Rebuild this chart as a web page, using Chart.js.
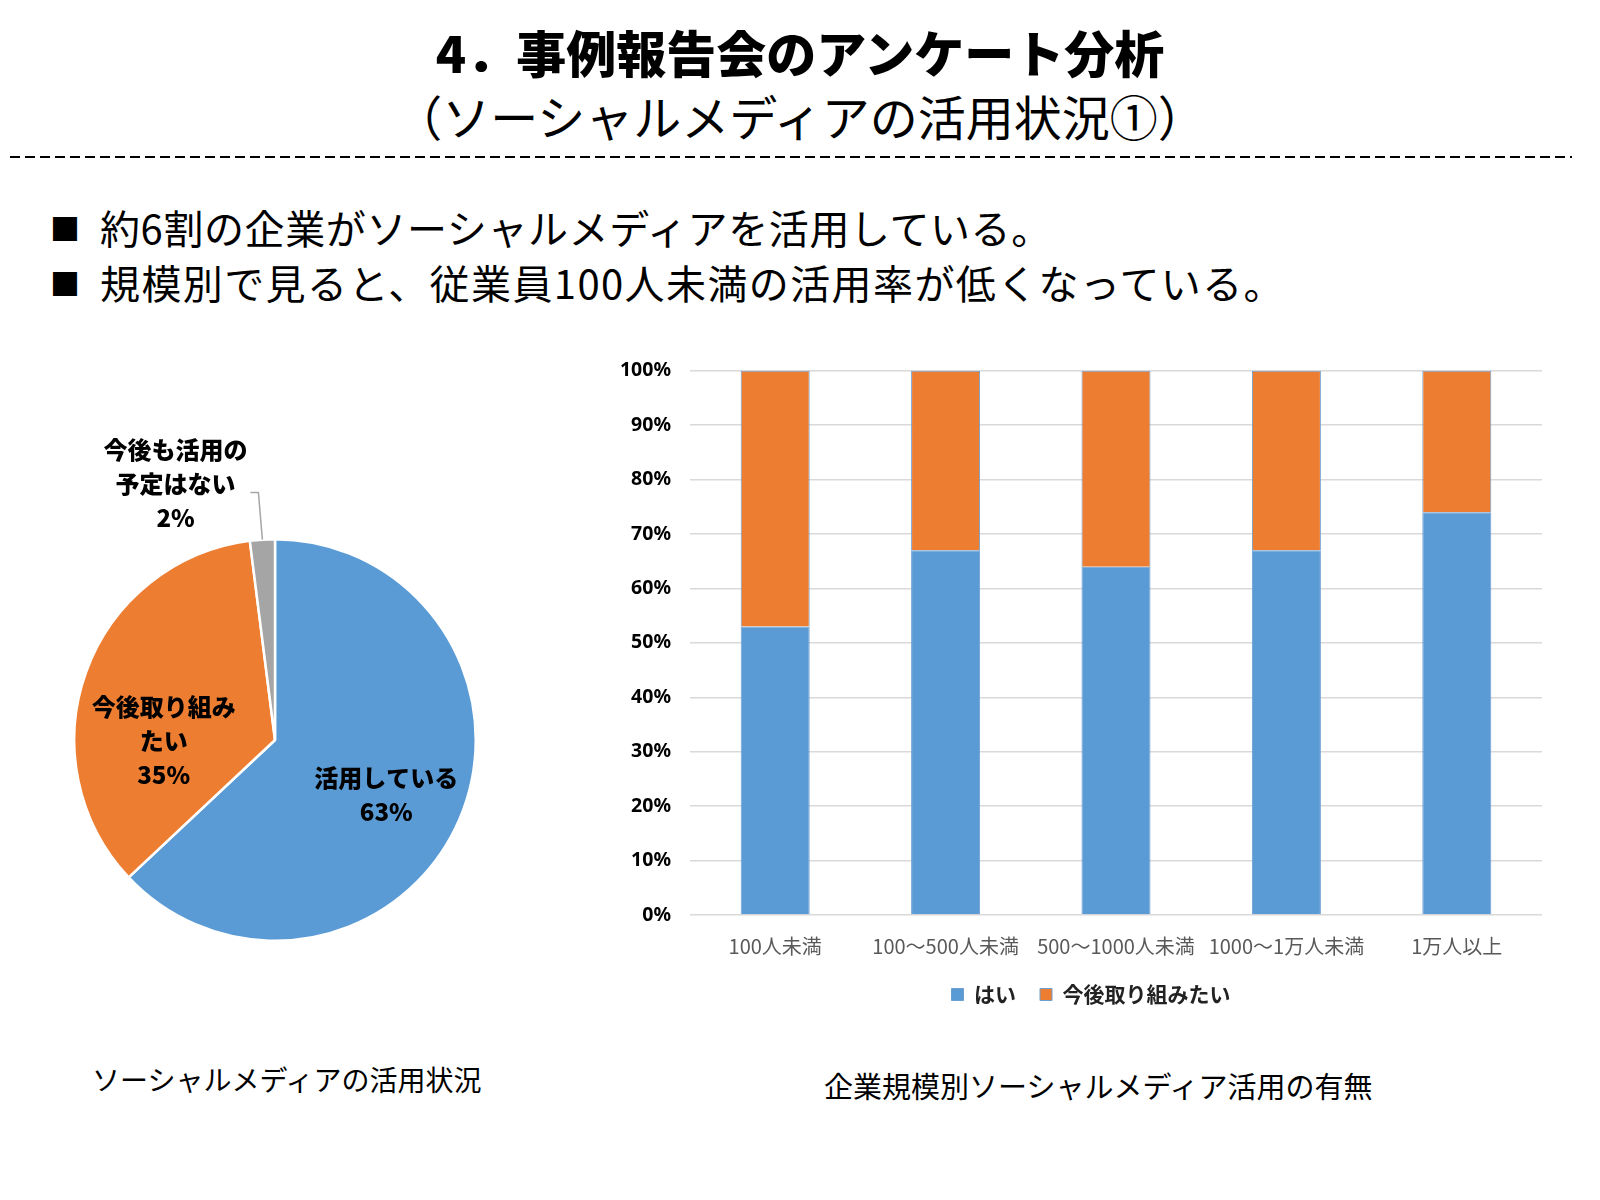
<!DOCTYPE html>
<html lang="ja">
<head>
<meta charset="utf-8">
<script src="https://cdn.jsdelivr.net/npm/chart.js@4.4.1/dist/chart.umd.min.js"></script>
<style>
  body { margin: 0; width: 1600px; height: 1200px; background: #fff; position: relative; overflow: hidden;
         font-family: "Noto Sans CJK JP", "Noto Sans", sans-serif; color: #000; }
  .abs { position: absolute; white-space: nowrap; }
  #title { left: 0; width: 1600px; top: 20px; text-align: center; font-size: 50px; font-weight: 900; line-height: 62px; }
  #subtitle { left: 0; width: 1600px; top: 84px; text-align: center; font-size: 48px; font-weight: 400; line-height: 62px; }
  .bullet { left: 50px; font-size: 40px; line-height: 52px; }
  .bullet .sq { font-size: 30px; display: inline-block; width: 50px; vertical-align: 4px; letter-spacing: 0; }
  .caption { font-size: 28px; line-height: 40px; }
</style>
</head>
<body>
<div id="title" class="abs">4．事例報告会のアンケート分析</div>
<div id="subtitle" class="abs">（ソーシャルメディアの活用状況①）</div>
<svg class="abs" style="left:0;top:148px" width="1600" height="20">
  <line x1="10" y1="9" x2="1572" y2="9" stroke="#000" stroke-width="2" stroke-dasharray="10 5"></line>
</svg>
<div class="abs bullet" style="top:201px;letter-spacing:0.6px"><span class="sq">■</span>約6割の企業がソーシャルメディアを活用している。</div>
<div class="abs bullet" style="top:256px;letter-spacing:1.4px"><span class="sq">■</span>規模別で見ると、従業員100人未満の活用率が低くなっている。</div>

<div class="abs" style="left:50px;top:420px;width:460px;height:540px"><canvas id="pie"></canvas></div>
<div class="abs" style="left:600px;top:340px;width:960px;height:700px"><canvas id="bar"></canvas></div>

<div class="abs caption" style="left:92px;top:1059px">ソーシャルメディアの活用状況</div>
<div class="abs caption" style="left:824px;top:1065px;font-size:29px">企業規模別ソーシャルメディア活用の有無</div>

<script>
// pie: overall usage
const pieCategories = [['活用している'], ['今後取り組み', 'たい'], ['今後も活用の', '予定はない']];
const pieValues = [63, 35, 2];
const pieColors = ['#5b9bd5', '#ed7d31', '#a5a5a5'];

// bar: usage by company size
const sizeLabels = ['100人未満', '100～500人未満', '500～1000人未満', '1000～1万人未満', '1万人以上'];
const seriesNames = ['はい', '今後取り組みたい'];
const yesValues = [53, 67, 64, 67, 74];
const laterValues = [47, 33, 36, 33, 26];

const labelFont = '900 24px "Noto Sans CJK JP"';
// where each pie label sits: fraction of the radius along the slice middle, then a small nudge
const pieLabelRadius = [0.62, 0.6, 1.3];
const pieLabelNudge = [[-3, 5], [2, 42], [-83, 4]];

const pieLabelPlugin = {
    id: 'pieLabels',
    afterDatasetsDraw (chart) {
        const ctx = chart.ctx;
        const meta = chart.getDatasetMeta(0);
        ctx.save();
        ctx.font = labelFont;
        ctx.fillStyle = '#000';
        ctx.textAlign = 'center';
        ctx.textBaseline = 'middle';
        meta.data.forEach(function (arc, i) {
            const p = arc.getProps(['x', 'y', 'startAngle', 'endAngle', 'outerRadius'], true);
            const mid = (p.startAngle + p.endAngle) / 2;
            const cx = p.x + Math.cos(mid) * p.outerRadius * pieLabelRadius[i] + pieLabelNudge[i][0];
            const cy = p.y + Math.sin(mid) * p.outerRadius * pieLabelRadius[i] + pieLabelNudge[i][1];
            const lines = pieCategories[i].concat([pieValues[i] + '%']);
            lines.forEach(function (t, k) {
                ctx.fillText(t, cx, cy + (k - (lines.length - 1) / 2) * 34);
            });
            if (pieLabelRadius[i] > 1) {
                // leader line from the slice edge up to the label
                const ex = p.x + Math.cos(mid) * p.outerRadius;
                const ey = p.y + Math.sin(mid) * p.outerRadius;
                ctx.strokeStyle = '#a6a6a6';
                ctx.lineWidth = 1.5;
                ctx.beginPath();
                ctx.moveTo(ex, ey);
                ctx.lineTo(ex - 4, cy + 9);
                ctx.lineTo(ex - 12, cy + 9);
                ctx.stroke();
            }
        });
        ctx.restore();
    }
};

// the legend in the original sits a little right of the canvas centre
const legendShift = {
    id: 'legendShift',
    afterLayout (chart) {
        chart.legend.left += 20;
        chart.legend.right += 20;
    }
};

new Chart(document.getElementById('pie'), {
    type: 'pie',
    data: {
        labels: pieCategories.map(function (l) { return l.join(''); }),
        datasets: [{ data: pieValues, backgroundColor: pieColors, borderColor: '#fff', borderWidth: 2.5 }]
    },
    options: {
        responsive: true,
        maintainAspectRatio: false,
        animation: false,
        hoverOffset: 0,
        layout: { padding: { left: 23, right: 33, top: 118, bottom: 18 } },
        plugins: { legend: { display: false }, tooltip: { enabled: false } }
    },
    plugins: [pieLabelPlugin]
});

new Chart(document.getElementById('bar'), {
    type: 'bar',
    data: {
        labels: sizeLabels,
        datasets: [
            { label: seriesNames[0], data: yesValues, backgroundColor: '#5b9bd5', borderColor: '#6d9ecf', borderWidth: 1 },
            { label: seriesNames[1], data: laterValues, backgroundColor: '#ed7d31', borderColor: '#6d9ecf', borderWidth: 1 }
        ]
    },
    options: {
        responsive: true,
        maintainAspectRatio: false,
        animation: false,
        categoryPercentage: 1,
        barPercentage: 0.405,
        layout: { padding: { top: 29, right: 18, bottom: 25, left: 0 } },
        scales: {
            x: {
                stacked: true,
                grid: { display: false },
                border: { display: false },
                ticks: { color: '#595959', font: { family: 'Noto Sans CJK JP', size: 20 }, padding: 11, maxRotation: 0, autoSkip: false },
                afterFit: function (scale) { scale.height = 45; }
            },
            y: {
                stacked: true,
                min: 0,
                max: 100,
                grid: { color: '#d9d9d9', lineWidth: 1.5, drawTicks: false },
                border: { display: false },
                ticks: {
                    stepSize: 10,
                    padding: 19,
                    color: '#000',
                    font: { family: 'Noto Sans', size: 19.5, weight: 'bold' },
                    callback: function (v) { return v + '%'; }
                },
                afterFit: function (scale) { scale.width = 90; }
            }
        },
        plugins: {
            legend: {
                position: 'bottom',
                labels: { boxWidth: 12, boxHeight: 12, padding: 24, color: '#222',
                          font: { family: 'Noto Sans CJK JP', size: 21, weight: 'bold' } }
            },
            tooltip: { enabled: false }
        }
    },
    plugins: [legendShift]
});
</script>
</body>
</html>
